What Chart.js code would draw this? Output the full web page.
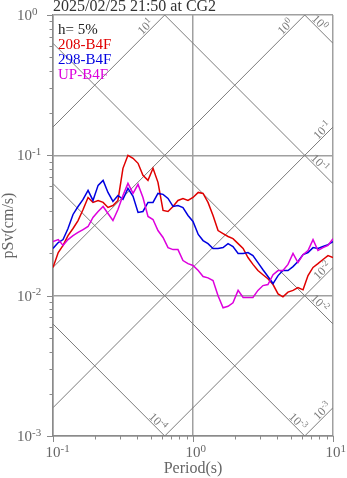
<!DOCTYPE html>
<html>
<head>
<meta charset="utf-8">
<title>pSv response spectrum</title>
<script src="https://cdn.jsdelivr.net/npm/chart.js@4.4.1/dist/chart.umd.min.js"></script>
<style>
  html, body { margin: 0; padding: 0; background: #fff; }
  #wrap { width: 347px; height: 478px; }
</style>
</head>
<body>
<div id="wrap"><canvas id="psvChart" width="347" height="478"></canvas></div>
<script>
// Period axis (s) and pseudo velocity response (cm/s), h = 5%
const periods = [0.1, 0.109, 0.118, 0.128, 0.139, 0.151, 0.164, 0.178, 0.193, 0.210,
    0.228, 0.247, 0.268, 0.291, 0.316, 0.343, 0.373, 0.405, 0.439, 0.477,
    0.518, 0.562, 0.611, 0.663, 0.720, 0.781, 0.848, 0.921, 1.0, 1.09,
    1.18, 1.28, 1.39, 1.51, 1.64, 1.78, 1.93, 2.10, 2.28, 2.47,
    2.68, 2.91, 3.16, 3.43, 3.73, 4.05, 4.39, 4.77, 5.18, 5.62,
    6.11, 6.63, 7.20, 7.81, 8.48, 9.21, 10];

const sv208 = [0.0159, 0.0203, 0.0228, 0.0268, 0.0301, 0.0343, 0.0411, 0.0501, 0.0462, 0.0477,
    0.0462, 0.0425, 0.0439, 0.0477, 0.0808, 0.100, 0.0952, 0.0877, 0.0720, 0.0663,
    0.0808, 0.0642, 0.0405, 0.0398, 0.0432, 0.0477, 0.0493, 0.0477, 0.0501, 0.0544,
    0.0535, 0.0462, 0.0373, 0.0291, 0.0277, 0.0264, 0.0255, 0.0235, 0.0217, 0.0187,
    0.0167, 0.0151, 0.0141, 0.0132, 0.0120, 0.0103, 0.0098, 0.0106, 0.0109, 0.0114,
    0.0110, 0.0139, 0.0159, 0.0169, 0.0181, 0.0193, 0.0187];

const sv298 = [0.0217, 0.0239, 0.0251, 0.0301, 0.0379, 0.0432, 0.0485, 0.0562, 0.0477, 0.0611,
    0.0663, 0.0544, 0.0469, 0.0518, 0.0485, 0.0581, 0.0510, 0.0392, 0.0398, 0.0462,
    0.0462, 0.0535, 0.0527, 0.0493, 0.0432, 0.0439, 0.0425, 0.0373, 0.0338, 0.0273,
    0.0247, 0.0235, 0.0217, 0.0217, 0.0220, 0.0235, 0.0224, 0.0200, 0.0200, 0.0203,
    0.0193, 0.0172, 0.0153, 0.0137, 0.0122, 0.0139, 0.0151, 0.0151, 0.0161, 0.0175,
    0.0196, 0.0203, 0.0220, 0.0217, 0.0224, 0.0231, 0.0243];

const svUP = [0.0243, 0.0251, 0.0228, 0.0251, 0.0268, 0.0282, 0.0296, 0.0311, 0.0361, 0.0398,
    0.0432, 0.0385, 0.0343, 0.0411, 0.0518, 0.0631, 0.0535, 0.0621, 0.0501, 0.0367,
    0.0349, 0.0291, 0.0260, 0.0220, 0.0213, 0.0213, 0.0178, 0.0169, 0.0164, 0.0151,
    0.0137, 0.0134, 0.0128, 0.0100, 0.0082, 0.0084, 0.0089, 0.0109, 0.0097, 0.0097,
    0.0097, 0.0109, 0.0118, 0.0120, 0.0141, 0.0151, 0.0151, 0.0167, 0.0200, 0.0172,
    0.0196, 0.0210, 0.0251, 0.0210, 0.0220, 0.0228, 0.0255];

const seriesLabels = ['208-B4F', '298-B4F', 'UP-B4F'];
const seriesColors = ['#e00000', '#0000e0', '#dd00dd'];

const xDecades = [0.1, 1, 10];
const yDecades = [0.001, 0.01, 0.1, 1];

// tripartite guide lines: acceleration (cm/s^2) and displacement (cm)
const accLevels = [10, 1, 0.1, 0.01, 0.001];
const dispLevels = [1, 0.1, 0.01, 0.001, 0.0001];

const titleText = '2025/02/25 21:50 at CG2';
const dampingText = 'h= 5%';

const FONT = '"Liberation Serif", "Times New Roman", serif';
const axisGray = '#8a8a8a';
const gridGray = '#a0a0a0';
const guideGray = '#7c7c7c';
const labelGray = '#666666';
const TWO_PI = 2 * Math.PI;

// decades plus 2..9 minor ticks
function buildTicks(decades) {
    const ticks = [];
    decades.forEach(function (d, i) {
        ticks.push({ value: d, major: true });
        if (i < decades.length - 1) {
            for (let m = 2; m <= 9; m++) ticks.push({ value: d * m, major: false });
        }
    });
    return ticks;
}

function toPoints(values) {
    return periods.map(function (t, i) { return { x: t, y: values[i] }; });
}

function accLine(sa) {
    return [0.1, 10].map(function (t) { return { x: t, y: sa * t / TWO_PI }; });
}

function dispLine(sd) {
    return [0.1, 10].map(function (t) { return { x: t, y: TWO_PI * sd / t }; });
}

const datasets = [sv208, sv298, svUP].map(function (vals, i) {
    return {
        label: seriesLabels[i],
        data: toPoints(vals),
        borderColor: seriesColors[i],
        borderWidth: 1.5,
        pointRadius: 0,
        tension: 0,
        order: 3 - i
    };
});

accLevels.forEach(function (sa) {
    datasets.push({ label: '', data: accLine(sa), borderColor: guideGray, borderWidth: 1, pointRadius: 0, order: 10 });
});
dispLevels.forEach(function (sd) {
    datasets.push({ label: '', data: dispLine(sd), borderColor: guideGray, borderWidth: 1, pointRadius: 0, order: 10 });
});

// "10" with a raised exponent
function drawPower(ctx, exp, x, y, baseSize, expSize, align) {
    const base = '10';
    const sup = String(exp);
    ctx.font = baseSize + 'px ' + FONT;
    const wb = ctx.measureText(base).width;
    ctx.font = expSize + 'px ' + FONT;
    const ws = ctx.measureText(sup).width;
    let x0 = x;
    if (align === 'center-base') x0 = x - wb / 2;
    else if (align === 'right-base') x0 = x - wb;
    else if (align === 'center') x0 = x - (wb + ws) / 2;
    ctx.textAlign = 'left';
    ctx.textBaseline = 'alphabetic';
    ctx.font = baseSize + 'px ' + FONT;
    ctx.fillText(base, x0, y);
    ctx.font = expSize + 'px ' + FONT;
    ctx.fillText(sup, x0 + wb, y - baseSize * 0.36);
}

const decorPlugin = {
    id: 'decor',
    afterDraw(chart) {
        const ctx = chart.ctx;
        const area = chart.chartArea;
        const xs = chart.scales.x;
        const ys = chart.scales.y;
        ctx.save();

        // tick marks outside the frame
        ctx.strokeStyle = axisGray;
        ctx.lineWidth = 1;
        ctx.beginPath();
        xs.ticks.forEach(function (t) {
            const px = Math.round(xs.getPixelForValue(t.value)) + 0.5;
            ctx.moveTo(px, area.bottom);
            ctx.lineTo(px, area.bottom + (t.major ? 6 : 3.5));
        });
        ys.ticks.forEach(function (t) {
            const py = Math.round(ys.getPixelForValue(t.value)) + 0.5;
            ctx.moveTo(area.left, py);
            ctx.lineTo(area.left - (t.major ? 6 : 3.5), py);
        });
        ctx.stroke();

        // tick labels
        ctx.fillStyle = labelGray;
        xDecades.forEach(function (v) {
            drawPower(ctx, Math.round(Math.log10(v)), xs.getPixelForValue(v), area.bottom + 21, 15, 11, 'center-base');
        });
        yDecades.forEach(function (v) {
            drawPower(ctx, Math.round(Math.log10(v)), 32, ys.getPixelForValue(v) + 5, 15, 11, 'right-base');
        });

        // guide line labels
        ctx.fillStyle = guideGray;
        const r2 = Math.SQRT1_2;
        function guideLabel(exp, endT, endSv, back, perp, kind) {
            const ex = xs.getPixelForValue(endT);
            const ey = ys.getPixelForValue(endSv);
            let cx, cy, ang;
            if (kind === 'acc') {
                cx = ex + (-back - perp) * r2;
                cy = ey + (back - perp) * r2;
                ang = -Math.PI / 4;
            } else {
                cx = ex + (-back + perp) * r2;
                cy = ey + (-back - perp) * r2;
                ang = Math.PI / 4;
            }
            ctx.save();
            ctx.translate(cx, cy);
            ctx.rotate(ang);
            drawPower(ctx, exp, 0, 4, 12, 9, 'center');
            ctx.restore();
        }
        accLevels.forEach(function (sa) {
            const exp = Math.round(Math.log10(sa));
            const tTop = TWO_PI / sa;
            if (tTop <= 10) guideLabel(exp, tTop, 1, 22, 5.5, 'acc');
            else guideLabel(exp, 10, sa * 10 / TWO_PI, 10, 5.5, 'acc');
        });
        dispLevels.forEach(function (sd) {
            const exp = Math.round(Math.log10(sd));
            const svRight = TWO_PI * sd / 10;
            if (svRight >= 0.001) guideLabel(exp, 10, svRight, 24, 5.5, 'disp');
            else guideLabel(exp, TWO_PI * sd / 0.001, 0.001, 15, 5.5, 'disp');
        });

        // title
        ctx.textAlign = 'left';
        ctx.textBaseline = 'alphabetic';
        ctx.fillStyle = '#333333';
        ctx.font = '16px ' + FONT;
        ctx.fillText(titleText, area.left, 11);

        // legend block
        ctx.font = '15px ' + FONT;
        ctx.fillStyle = '#222222';
        ctx.fillText(dampingText, area.left + 5, 33.5);
        seriesLabels.forEach(function (lab, i) {
            ctx.fillStyle = seriesColors[i];
            ctx.fillText(lab, area.left + 5, 49 + i * 15);
        });

        ctx.restore();
    }
};

new Chart(document.getElementById('psvChart'), {
    type: 'line',
    data: { datasets: datasets },
    options: {
        responsive: false,
        animation: false,
        layout: { padding: { top: 15, right: 14, left: 0, bottom: 0 } },
        plugins: {
            legend: { display: false },
            tooltip: { enabled: false },
            title: { display: false }
        },
        scales: {
            x: {
                type: 'logarithmic',
                min: 0.1,
                max: 10,
                afterBuildTicks: function (s) { s.ticks = buildTicks(xDecades); },
                afterFit: function (s) { s.height = 42; },
                ticks: { display: false },
                grid: {
                    drawTicks: false,
                    lineWidth: 1.5,
                    color: function (c) { return c.tick && c.tick.major ? gridGray : 'rgba(0,0,0,0)'; }
                },
                border: { color: axisGray, width: 1.5 },
                title: {
                    display: true,
                    text: 'Period(s)',
                    color: labelGray,
                    font: { family: FONT, size: 16 },
                    padding: { top: 0, bottom: 0 }
                }
            },
            y: {
                type: 'logarithmic',
                min: 0.001,
                max: 1,
                afterBuildTicks: function (s) { s.ticks = buildTicks(yDecades); },
                afterFit: function (s) { s.width = 53; },
                ticks: { display: false },
                grid: {
                    drawTicks: false,
                    lineWidth: 1.5,
                    color: function (c) { return c.tick && c.tick.major ? gridGray : 'rgba(0,0,0,0)'; }
                },
                border: { color: axisGray, width: 1.5 },
                title: {
                    display: true,
                    text: 'pSv(cm/s)',
                    color: labelGray,
                    font: { family: FONT, size: 16 },
                    padding: { top: -1, bottom: 0 }
                }
            }
        }
    },
    plugins: [decorPlugin]
});
</script>
</body>
</html>
